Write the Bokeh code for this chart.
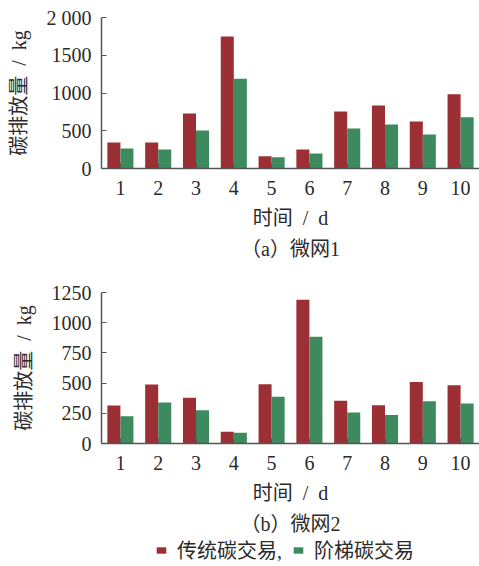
from bokeh.plotting import figure
from bokeh.layouts import column
from bokeh.models import (FactorRange, Range1d, FixedTicker, ColumnDataSource,
                          Title, Legend, LegendItem)
from bokeh.transform import dodge
from bokeh.embed import file_html
from bokeh.resources import INLINE

days = ["1", "2", "3", "4", "5", "6", "7", "8", "9", "10"]
mg1_traditional = [344, 344, 728, 1748, 163, 252, 755, 834, 622, 985]
mg1_tiered = [265, 252, 503, 1188, 150, 199, 530, 583, 450, 680]
mg2_traditional = [315, 488, 378, 97, 491, 1189, 353, 317, 510, 483]
mg2_tiered = [226, 339, 276, 88, 386, 883, 257, 235, 350, 331]
y1_ticks = [0, 500, 1000, 1500, 2000]
y1_labels = {2000: "2 000"}
y2_ticks = [0, 250, 500, 750, 1000, 1250]
series_names = ["传统碳交易,", "阶梯碳交易"]
captions = ["（a）微网1", "（b）微网2"]
x_title = "时间\u2002/\u2002d"
y_title = "碳排放量\u2002/\u2002kg"

RED = "#9C2F33"
GREEN = "#3C8A5E"
FONT = "Liberation Serif, Noto Sans CJK SC"
AX = "#555555"
TXT = "#2a2a2a"


def make(trad, tier, ymax, ticks, overrides, caption, top, bottom):
    src = ColumnDataSource(dict(day=days, trad=trad, tier=tier))
    p = figure(x_range=FactorRange(*days), y_range=Range1d(0, ymax),
               frame_width=378, frame_height=151,
               min_border_left=101, min_border_right=0,
               min_border_top=top, min_border_bottom=bottom,
               output_backend="svg", toolbar_location=None,
               background_fill_color=None, border_fill_color=None)
    p.vbar(x=dodge("day", -0.1725, range=p.x_range), top="trad", width=0.345,
           source=src, fill_color=RED, line_color=None)
    p.vbar(x=dodge("day", 0.1725, range=p.x_range), top="tier", width=0.345,
           source=src, fill_color=GREEN, line_color=None)
    p.outline_line_color = None
    p.xgrid.grid_line_color = None
    p.ygrid.grid_line_color = None
    p.yaxis.ticker = FixedTicker(ticks=ticks)
    p.yaxis.major_label_overrides = overrides
    for ax in (p.xaxis[0], p.yaxis[0]):
        ax.axis_line_color = AX
        ax.axis_line_width = 1.5
        ax.major_tick_line_color = AX
        ax.major_tick_in = 5
        ax.major_tick_out = 0
        ax.minor_tick_line_color = None
        ax.major_label_text_font = FONT
        ax.major_label_text_font_size = "20px"
        ax.major_label_text_color = TXT
        ax.axis_label_text_font = FONT
        ax.axis_label_text_font_size = "20px"
        ax.axis_label_text_font_style = "normal"
        ax.axis_label_text_color = TXT
    p.yaxis.major_label_standoff = 10
    p.yaxis.axis_label = y_title
    p.yaxis.axis_label_standoff = 14
    p.xaxis.major_label_standoff = 12
    p.xaxis.axis_label = x_title
    p.xaxis.axis_label_standoff = 9
    p.add_layout(Title(text=caption, align="center", text_font=FONT,
                       text_font_size="20px", text_font_style="normal",
                       text_color=TXT, standoff=8), "below")
    return p


p1 = make(mg1_traditional, mg1_tiered, 2000, y1_ticks, y1_labels, captions[0], 17, 94)
p2 = make(mg2_traditional, mg2_tiered, 1250, y2_ticks, {}, captions[1], 29, 96)

# legend strip
p3 = figure(width=479, height=28, x_range=Range1d(0, 1), y_range=Range1d(0, 1),
            min_border=0, x_axis_location=None, y_axis_location=None,
            output_backend="svg", toolbar_location=None,
            background_fill_color=None, border_fill_color=None)
p3.outline_line_color = None
p3.xgrid.grid_line_color = None
p3.ygrid.grid_line_color = None
lr1 = p3.vbar(x=[0.5], top=[-5], bottom=[-6], width=0.1, fill_color=RED, line_color=None)
lr2 = p3.vbar(x=[0.5], top=[-5], bottom=[-6], width=0.1, fill_color=GREEN, line_color=None)
lg = Legend(items=[LegendItem(label=series_names[0], renderers=[lr1]),
                   LegendItem(label=series_names[1], renderers=[lr2])],
            orientation="horizontal", location=(54, 3),
            label_text_font=FONT, label_text_font_size="20px",
            label_text_color=TXT, glyph_width=12, glyph_height=8,
            label_standoff=10, spacing=10, padding=0, margin=0,
            border_line_color=None, background_fill_alpha=0)
p3.add_layout(lg, "center")

layout = column(p1, p2, p3, spacing=0)

open("out.html", "w").write(file_html(layout, INLINE))
